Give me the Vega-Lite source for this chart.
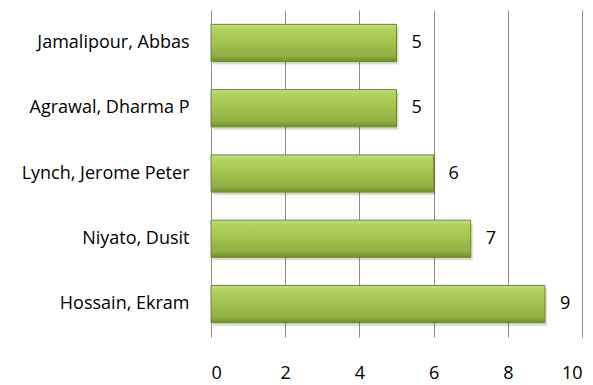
{
  "$schema": "https://vega.github.io/schema/vega-lite/v6.json",
  "autosize": "none",
  "padding": {"left": 211, "top": 10, "right": 11, "bottom": 48},
  "width": 371,
  "height": 327,
  "background": "white",
  "config": {"view": {"stroke": null}, "font": "Open Sans"},
  "data": {"values": [
    {"name": "Jamalipour, Abbas", "count": 5},
    {"name": "Agrawal, Dharma P", "count": 5},
    {"name": "Lynch, Jerome Peter", "count": 6},
    {"name": "Niyato, Dusit", "count": 7},
    {"name": "Hossain, Ekram", "count": 9}
  ]},
  "encoding": {
    "y": {"field": "name", "type": "nominal", "title": null,
      "sort": ["Jamalipour, Abbas", "Agrawal, Dharma P", "Lynch, Jerome Peter", "Niyato, Dusit", "Hossain, Ekram"],
      "scale": {"paddingInner": 0.43, "paddingOuter": 0.22},
      "axis": {"ticks": false, "domain": false, "labelPadding": 22, "labelFontSize": 18, "labelColor": "#000000", "labelFont": "Open Sans", "grid": false}},
    "x": {"field": "count", "type": "quantitative", "title": null,
      "scale": {"domain": [0, 10], "nice": false},
      "axis": {"values": [0, 2, 4, 6, 8, 10], "ticks": false, "domain": false, "grid": true, "gridColor": "#8c8c8c", "gridWidth": 1, "gridOpacity": 1, "labelPadding": 27, "labelFontSize": 18, "labelColor": "#000000", "labelFont": "Open Sans"}}
  },
  "layer": [
    {"mark": {"type": "bar", "color": "#000000", "opacity": 0.15, "xOffset": 2, "yOffset": 3}},
    {"mark": {"type": "bar", "stroke": "#6a8a2a", "strokeWidth": 1,
      "color": {"gradient": "linear", "x1": 0, "y1": 0, "x2": 0, "y2": 1,
        "stops": [
          {"offset": 0, "color": "#c4e07e"},
          {"offset": 0.12, "color": "#b2d35e"},
          {"offset": 0.5, "color": "#a0c24f"},
          {"offset": 0.85, "color": "#8fb043"},
          {"offset": 1, "color": "#6f8d2c"}
        ]}}},
    {"mark": {"type": "text", "align": "left", "dx": 15, "fontSize": 18, "font": "Open Sans", "color": "#000000"},
      "encoding": {"text": {"field": "count", "type": "quantitative"}}}
  ]
}
